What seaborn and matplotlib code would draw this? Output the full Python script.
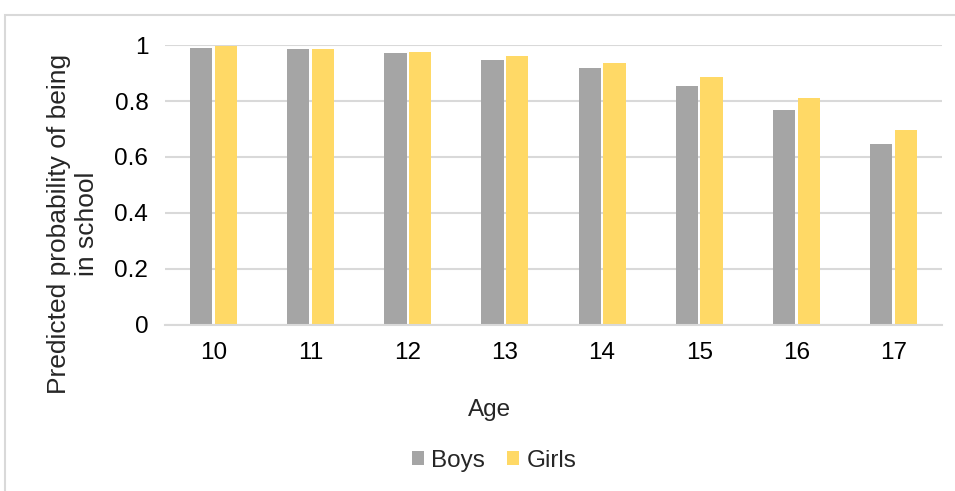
import matplotlib
matplotlib.use("Agg")
import matplotlib.pyplot as plt
import seaborn as sns
import pandas as pd
from matplotlib.patches import Rectangle, Patch

ages = ["10", "11", "12", "13", "14", "15", "16", "17"]
boys = [0.990, 0.986, 0.972, 0.949, 0.917, 0.856, 0.770, 0.646]
girls = [0.997, 0.986, 0.977, 0.963, 0.935, 0.885, 0.811, 0.697]
series = ["Boys", "Girls"]
colors = {"Boys": "#A5A5A5", "Girls": "#FFD966"}

df = pd.DataFrame({
    "Age": ages * 2,
    "Value": boys + girls,
    "Sex": ["Boys"] * len(ages) + ["Girls"] * len(ages),
})

sns.set_style("white")
plt.rcParams["font.family"] = ["Liberation Sans", "DejaVu Sans"]

FS = 17.5
fig = plt.figure(figsize=(9.55, 4.91), dpi=100)
W, H = 955, 491
ax = fig.add_axes([165 / W, 1 - 324.5 / H, (942 - 165) / W, (324.5 - 45.3) / H])

sns.barplot(data=df, x="Age", y="Value", hue="Sex", hue_order=series,
            palette=colors, width=0.51, gap=0.1, ax=ax, legend=False,
            linewidth=0, saturation=1)

ax.set_ylim(0, 1)
ax.set_xlim(-0.5, len(ages) - 0.5)
ax.set_yticks([0, 0.2, 0.4, 0.6, 0.8, 1.0])
ax.set_yticklabels(["0", "0.2", "0.4", "0.6", "0.8", "1"])
ax.yaxis.grid(True, color="#D9D9D9", linewidth=1.5)
ax.set_axisbelow(True)
for s in ["top", "right", "left"]:
    ax.spines[s].set_visible(False)
ax.spines["bottom"].set_color("#D9D9D9")
ax.spines["bottom"].set_linewidth(1.5)
ax.tick_params(axis="both", length=0, labelsize=FS, colors="#000000")
ax.tick_params(axis="x", pad=12.5)
ax.tick_params(axis="y", pad=12)
ax.set_xlabel("")
ax.set_ylabel("")

fig.text(73 / W, 1 - 224 / H, "Predicted probability of being\nin school",
         rotation=90, ha="center", va="center", multialignment="center",
         fontsize=19, linespacing=1.25)
fig.text(490 / W, 1 - 410 / H, "Age", ha="center", va="center", fontsize=FS)

handles = [Patch(facecolor=colors[s], edgecolor="none") for s in series]
fig.legend(handles, series, loc="center", bbox_to_anchor=(494 / W, 1 - 461 / H),
           ncol=2, frameon=False, fontsize=FS, handlelength=0.5, handleheight=0.5,
           handletextpad=0.3, columnspacing=0.9)

fig.patches.append(Rectangle((5 / W, -0.01), 1.0, 1 - 15 / H + 0.01,
                             transform=fig.transFigure, fill=False,
                             edgecolor="#D9D9D9", linewidth=1.5))

fig.savefig("out.png", dpi=100)
